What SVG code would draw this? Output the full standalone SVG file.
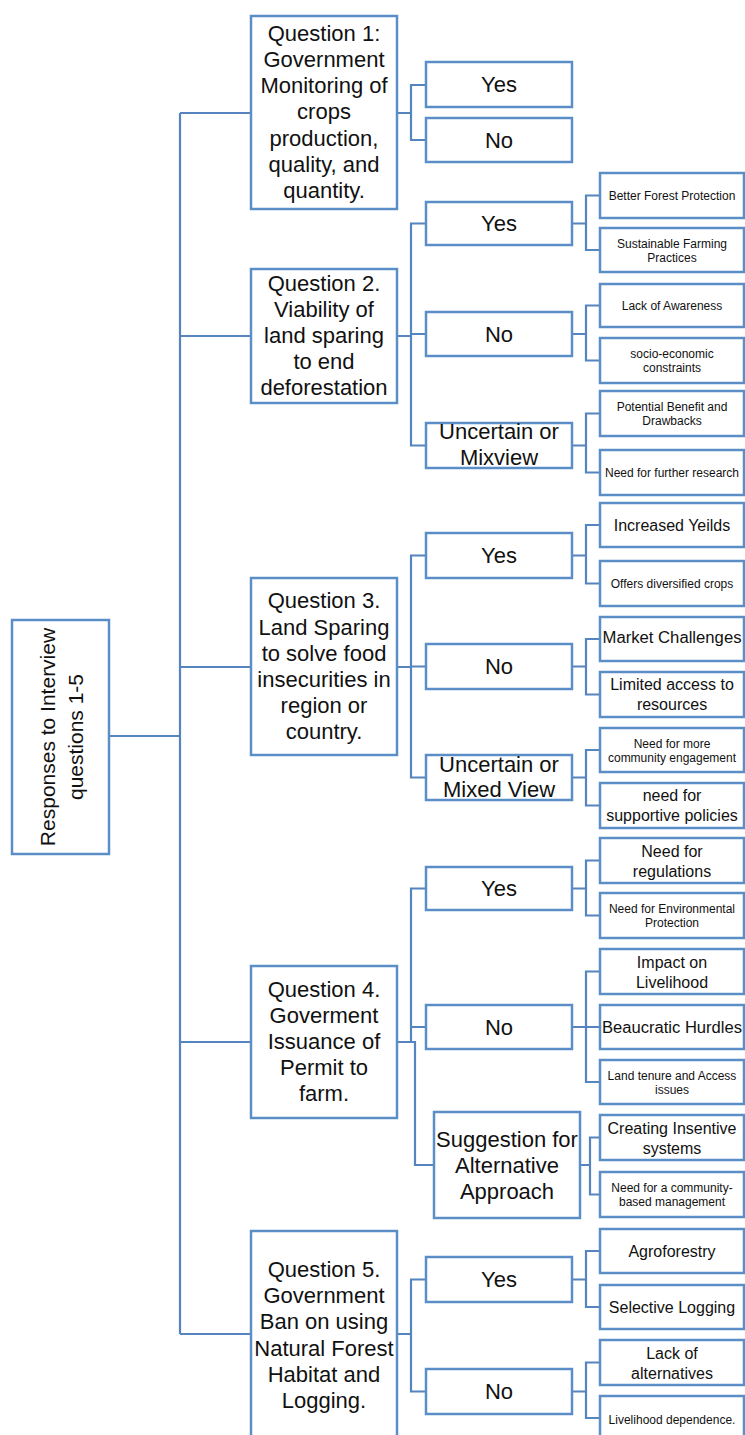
<svg xmlns="http://www.w3.org/2000/svg" width="745" height="1435" viewBox="0 0 745 1435">
<style>
.b{fill:#fff;stroke:#5B8EC7;stroke-width:2.5}
.c{fill:none;stroke:#5584BF;stroke-width:2.2}
text{font-family:"Liberation Sans",Arial,sans-serif;fill:#111;text-anchor:middle}
.q{font-size:22px}
.m{font-size:16px}
.s{font-size:12px}
</style>
<rect width="745" height="1435" fill="#fff"/>
<g id="connectors">
<path class="c" d="M180,113 V1334 M180,113 H251 M180,336 H251 M180,667 H251 M180,1042 H251 M180,1334 H251"/>
<path class="c" d="M109,736 H180" stroke-width="3"/>
<path class="c" d="M397,113 H411 M426,85 H411 V140 H426"/>
<path class="c" d="M397,336 H411 M426,223.5 H411 V445.5 H426 M411,334 H426"/>
<path class="c" d="M572,223.5 H586 M600,195.5 H586 V250 H600"/>
<path class="c" d="M572,334 H586 M600,305.5 H586 V360.5 H600"/>
<path class="c" d="M572,445.5 H586 M600,413.5 H586 V472.5 H600"/>
<path class="c" d="M397,667 H411 M426,555.5 H411 V777.5 H426 M411,666.5 H426"/>
<path class="c" d="M572,555.5 H586 M600,525 H586 V583.5 H600"/>
<path class="c" d="M572,666.5 H586 M600,639 H586 V694.5 H600"/>
<path class="c" d="M572,777.5 H586 M600,750 H586 V805.5 H600"/>
<path class="c" d="M397,1042 H415 V1165 H434 M411,1042 V888.5 H426 M411,1027 H426"/>
<path class="c" d="M572,888.5 H586 M600,860.5 H586 V915.5 H600"/>
<path class="c" d="M572,1027 H600 M600,971.5 H586 V1082 H600"/>
<path class="c" d="M580,1165 H590 M600,1137.5 H590 V1194.5 H600"/>
<path class="c" d="M397,1334 H411 M426,1279.5 H411 V1391.5 H426"/>
<path class="c" d="M572,1279.5 H586 M600,1251 H586 V1307 H600"/>
<path class="c" d="M572,1391.5 H586 M600,1362.5 H586 V1418 H600"/>
</g>
<g id="root">
<rect class="b" x="12" y="620" width="97" height="234"/>
<text class="q" font-size="21" transform="rotate(-90)" x="-737" y="55" style="font-size:21px">Responses to Interview</text>
<text class="q" transform="rotate(-90)" x="-737" y="83" style="font-size:21px">questions 1-5</text>
</g>
<g id="q1">
<rect class="b" x="251" y="16" width="146" height="193"/>
<text class="q"><tspan x="324" y="40.7">Question 1:</tspan><tspan x="324" y="66.9">Government</tspan><tspan x="324" y="93">Monitoring of</tspan><tspan x="324" y="119.3">crops</tspan><tspan x="324" y="145.5">production,</tspan><tspan x="324" y="171.8">quality, and</tspan><tspan x="324" y="198">quantity.</tspan></text>
</g>
<g id="q1-yes"><rect class="b" x="426" y="62" width="146" height="45"/><text class="q" x="499" y="92">Yes</text></g>
<g id="q1-no"><rect class="b" x="426" y="118" width="146" height="44"/><text class="q" x="499" y="148">No</text></g>
<g id="q2">
<rect class="b" x="251" y="269" width="146" height="134"/>
<text class="q"><tspan x="324" y="291">Question 2.</tspan><tspan x="324" y="317">Viability of</tspan><tspan x="324" y="343">land sparing</tspan><tspan x="324" y="369">to end</tspan><tspan x="324" y="395">deforestation</tspan></text>
</g>
<g id="q2-yes"><rect class="b" x="426" y="202" width="146" height="43"/><text class="q" x="499" y="231">Yes</text></g>
<g id="q2-no"><rect class="b" x="426" y="312" width="146" height="44"/><text class="q" x="499" y="342">No</text></g>
<g id="q2-unc"><rect class="b" x="426" y="423" width="146" height="45"/><text class="q"><tspan x="499" y="439">Uncertain or</tspan><tspan x="499" y="465">Mixview</tspan></text></g>
<g id="q2-yes-1"><rect class="b" x="600" y="173" width="144" height="45"/><text class="s" x="672" y="200">Better Forest Protection</text></g>
<g id="q2-yes-2"><rect class="b" x="600" y="228" width="144" height="44"/><text class="s"><tspan x="672" y="247.5">Sustainable Farming</tspan><tspan x="672" y="261.5">Practices</tspan></text></g>
<g id="q2-no-1"><rect class="b" x="600" y="284" width="144" height="43"/><text class="s" x="672" y="310">Lack of Awareness</text></g>
<g id="q2-no-2"><rect class="b" x="600" y="338" width="144" height="45"/><text class="s"><tspan x="672" y="358">socio-economic</tspan><tspan x="672" y="372">constraints</tspan></text></g>
<g id="q2-unc-1"><rect class="b" x="600" y="391" width="144" height="45"/><text class="s"><tspan x="672" y="411">Potential Benefit and</tspan><tspan x="672" y="425">Drawbacks</tspan></text></g>
<g id="q2-unc-2"><rect class="b" x="600" y="450" width="144" height="45"/><text class="s" x="672" y="477">Need for further research</text></g>
<g id="q3">
<rect class="b" x="251" y="578" width="146" height="177"/>
<text class="q"><tspan x="324" y="608">Question 3.</tspan><tspan x="324" y="634.5">Land Sparing</tspan><tspan x="324" y="660.7">to solve food</tspan><tspan x="324" y="686.9">insecurities in</tspan><tspan x="324" y="713">region or</tspan><tspan x="324" y="739">country.</tspan></text>
</g>
<g id="q3-yes"><rect class="b" x="426" y="533" width="146" height="45"/><text class="q" x="499" y="563">Yes</text></g>
<g id="q3-no"><rect class="b" x="426" y="644" width="146" height="45"/><text class="q" x="499" y="674">No</text></g>
<g id="q3-unc"><rect class="b" x="426" y="755" width="146" height="45"/><text class="q"><tspan x="499" y="772">Uncertain or</tspan><tspan x="499" y="797">Mixed View</tspan></text></g>
<g id="q3-yes-1"><rect class="b" x="600" y="503" width="144" height="44"/><text class="m" x="672" y="531">Increased Yeilds</text></g>
<g id="q3-yes-2"><rect class="b" x="600" y="561" width="144" height="45"/><text class="s" x="672" y="588">Offers diversified crops</text></g>
<g id="q3-no-1"><rect class="b" x="600" y="617" width="144" height="44"/><text class="m" x="672" y="643" textLength="139" lengthAdjust="spacingAndGlyphs">Market Challenges</text></g>
<g id="q3-no-2"><rect class="b" x="600" y="672" width="144" height="45"/><text class="m"><tspan x="672" y="690">Limited access to</tspan><tspan x="672" y="710">resources</tspan></text></g>
<g id="q3-unc-1"><rect class="b" x="600" y="728" width="144" height="44"/><text class="s"><tspan x="672" y="747.8">Need for more</tspan><tspan x="672" y="761.8">community engagement</tspan></text></g>
<g id="q3-unc-2"><rect class="b" x="600" y="783" width="144" height="45"/><text class="m"><tspan x="672" y="801">need for</tspan><tspan x="672" y="821">supportive policies</tspan></text></g>
<g id="q4">
<rect class="b" x="251" y="966" width="146" height="152"/>
<text class="q"><tspan x="324" y="997">Question 4.</tspan><tspan x="324" y="1023">Goverment</tspan><tspan x="324" y="1049">Issuance of</tspan><tspan x="324" y="1075">Permit to</tspan><tspan x="324" y="1101">farm.</tspan></text>
</g>
<g id="q4-yes"><rect class="b" x="426" y="867" width="146" height="43"/><text class="q" x="499" y="896">Yes</text></g>
<g id="q4-no"><rect class="b" x="426" y="1005" width="146" height="44"/><text class="q" x="499" y="1035">No</text></g>
<g id="q4-sug"><rect class="b" x="434" y="1112" width="146" height="106"/><text class="q"><tspan x="507" y="1147">Suggestion for</tspan><tspan x="507" y="1173">Alternative</tspan><tspan x="507" y="1199">Approach</tspan></text></g>
<g id="q4-yes-1"><rect class="b" x="600" y="838" width="144" height="45"/><text class="m"><tspan x="672" y="856.5">Need for</tspan><tspan x="672" y="876.5">regulations</tspan></text></g>
<g id="q4-yes-2"><rect class="b" x="600" y="893" width="144" height="45"/><text class="s"><tspan x="672" y="913">Need for Environmental</tspan><tspan x="672" y="927">Protection</tspan></text></g>
<g id="q4-no-1"><rect class="b" x="600" y="949" width="144" height="45"/><text class="m"><tspan x="672" y="967.5">Impact on</tspan><tspan x="672" y="987.5">Livelihood</tspan></text></g>
<g id="q4-no-2"><rect class="b" x="600" y="1005" width="144" height="44"/><text class="m" x="672" y="1033" textLength="140" lengthAdjust="spacingAndGlyphs">Beaucratic Hurdles</text></g>
<g id="q4-no-3"><rect class="b" x="600" y="1060" width="144" height="44"/><text class="s"><tspan x="672" y="1079.8">Land tenure and Access</tspan><tspan x="672" y="1093.8">issues</tspan></text></g>
<g id="q4-sug-1"><rect class="b" x="600" y="1115" width="144" height="45"/><text class="m"><tspan x="672" y="1133.5">Creating Insentive</tspan><tspan x="672" y="1153.5">systems</tspan></text></g>
<g id="q4-sug-2"><rect class="b" x="600" y="1172" width="144" height="45"/><text class="s"><tspan x="672" y="1192">Need for a community-</tspan><tspan x="672" y="1206">based management</tspan></text></g>
<g id="q5">
<rect class="b" x="251" y="1231" width="146" height="215"/>
<text class="q"><tspan x="324" y="1277">Question 5.</tspan><tspan x="324" y="1303">Government</tspan><tspan x="324" y="1329">Ban on using</tspan><tspan x="324" y="1356">Natural Forest</tspan><tspan x="324" y="1382">Habitat and</tspan><tspan x="324" y="1408">Logging.</tspan></text>
</g>
<g id="q5-yes"><rect class="b" x="426" y="1257" width="146" height="45"/><text class="q" x="499" y="1287">Yes</text></g>
<g id="q5-no"><rect class="b" x="426" y="1369" width="146" height="45"/><text class="q" x="499" y="1399">No</text></g>
<g id="q5-yes-1"><rect class="b" x="600" y="1229" width="144" height="44"/><text class="m" x="672" y="1257">Agroforestry</text></g>
<g id="q5-yes-2"><rect class="b" x="600" y="1285" width="144" height="44"/><text class="m" x="672" y="1313">Selective Logging</text></g>
<g id="q5-no-1"><rect class="b" x="600" y="1340" width="144" height="45"/><text class="m"><tspan x="672" y="1358.5">Lack of</tspan><tspan x="672" y="1378.5">alternatives</tspan></text></g>
<g id="q5-no-2"><rect class="b" x="600" y="1396" width="144" height="50"/><text class="s" x="672" y="1424">Livelihood dependence.</text></g>
</svg>
